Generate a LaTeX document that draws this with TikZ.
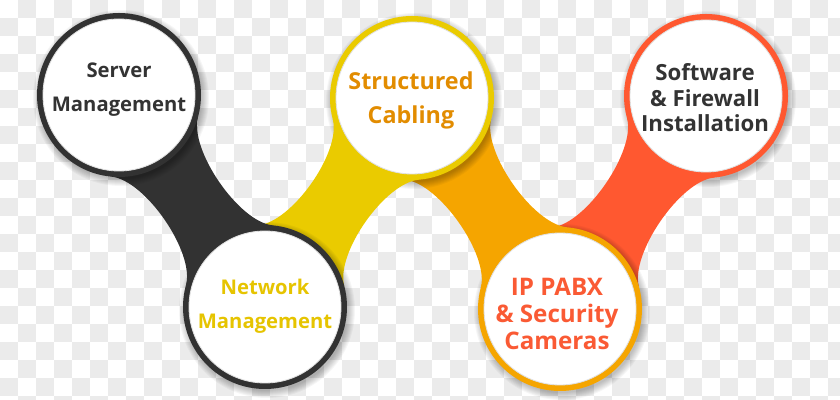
\documentclass[tikz,border=0pt]{standalone}
\usepackage{fontspec}
\setmainfont{Open Sans}
\usetikzlibrary{calc}

\definecolor{ringdark}{RGB}{50,50,50}
\definecolor{ringyellow}{RGB}{234,203,0}
\definecolor{ringorange}{RGB}{245,165,0}
\definecolor{ringred}{RGB}{255,88,48}
\definecolor{txtdark}{RGB}{51,51,51}
\definecolor{txtyellow}{RGB}{230,196,0}
\definecolor{txtorange}{RGB}{226,140,0}
\definecolor{txtred}{RGB}{250,90,52}
\definecolor{checker}{RGB}{235,235,235}

\newcommand{\bandspread}{40}
\newcommand{\bandpull}{34}
% neck between two hubs: from, to, direction, colour
\newcommand{\neckband}[4]{%
  \fill[#4] ($(#1)+(#3+\bandspread:82)$)
    .. controls +(#3+\bandspread-90:\bandpull) and +(#3+180-\bandspread+90:\bandpull) .. ($(#2)+(#3+180-\bandspread:82)$)
    -- ($(#2)+(#3+180+\bandspread:82)$)
    .. controls +(#3+180+\bandspread-90:\bandpull) and +(#3-\bandspread+90:\bandpull) .. ($(#1)+(#3-\bandspread:82)$)
    -- cycle;}
% soft shadow round a hub
\newcommand{\hubshadow}[1]{%
  \foreach \k in {1,...,8}
    \fill[black, opacity=0.035] ($(#1)+(2,-3)$) circle [radius={80+\k}];}

\tikzset{
  hubtext/.style={align=center, inner sep=0pt},
}

\begin{document}
\begin{tikzpicture}[x=0.025cm, y=0.025cm]
    \useasboundingbox (0,0) rectangle (840,400);

    % transparency checker behind everything
    \begin{scope}
        \clip (0,0) rectangle (840,400);
        \foreach \i in {0,...,46}
            \foreach \j in {0,...,22} {
                \pgfmathtruncatemacro\odd{mod(\i+\j,2)}
                \ifnum\odd=1
                    \fill[checker] (\i*18,400-\j*18) rectangle ++(18,-18);
                \fi
            }
    \end{scope}

    % hub centres
    \coordinate (server)   at (119,305);
    \coordinate (network)  at (265,93);
    \coordinate (cabling)  at (412,302);
    \coordinate (pabx)     at (560,91);
    \coordinate (software) at (706,304);

    % from the right end back, so each neck slides under the hub before it
    \hubshadow{software}
    \neckband{pabx}{software}{55.6}{ringred}
    \fill[ringred] (software) circle [radius=82];

    \hubshadow{pabx}
    \neckband{cabling}{pabx}{-55}{ringorange}
    \fill[ringorange] (pabx) circle [radius=82];

    \hubshadow{cabling}
    \neckband{network}{cabling}{54.9}{ringyellow}
    \fill[ringyellow] (cabling) circle [radius=82];

    \hubshadow{network}
    \neckband{server}{network}{-55.45}{ringdark}
    \fill[ringdark] (network) circle [radius=82];

    \hubshadow{server}
    \fill[ringdark] (server) circle [radius=82];

    % white faces
    \foreach \h in {server,network,cabling,pabx,software}
        \fill[white, draw=black!12, line width=0.6pt] (\h) circle [radius=76];

    % labels
    \node[hubtext, text=txtdark, font=\bfseries\fontsize{14.4}{24.2}\selectfont]
        (server-txt) at ($(server)+(0,5)$) {Server\\Management};
    \node[hubtext, text=txtyellow, font=\bfseries\fontsize{14.4}{24.2}\selectfont]
        (network-txt) at ($(network)+(0,1)$) {Network\\Management};
    \node[hubtext, text=txtorange, font=\bfseries\fontsize{16.6}{24.2}\selectfont]
        (cabling-txt) at ($(cabling)+(-1,-2)$) {Structured\\Cabling};
    \node[hubtext, text=txtred, font=\bfseries\fontsize{17.2}{18.9}\selectfont]
        (pabx-txt) at ($(pabx)+(-3,-5)$) {IP PABX\\\& Security\\Cameras};
    \node[hubtext, text=txtdark, font=\bfseries\fontsize{15.8}{18.1}\selectfont]
        (software-txt) at ($(software)+(-1,-2)$) {Software\\\& Firewall\\Installation};
\end{tikzpicture}
\end{document}
